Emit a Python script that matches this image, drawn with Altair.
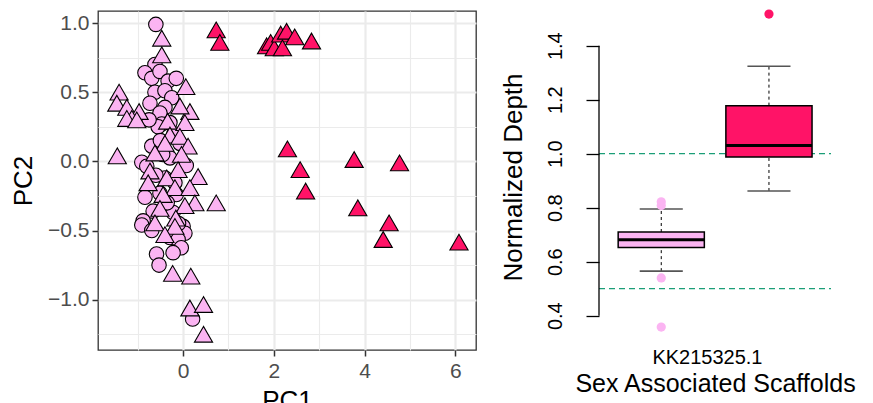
import altair as alt
import pandas as pd

# ---------------- PCA scatter data ----------------
dark_tri_x = [0.73, 0.81, 1.84, 1.93, 2.01, 2.15, 2.19, 2.28, 2.46, 2.83,
              2.30, 2.58, 2.70, 3.77, 4.77, 3.85, 4.54, 4.41, 6.08]
dark_tri_y = [0.95, 0.86, 0.835, 0.86, 0.82, 0.92, 0.82, 0.94, 0.90, 0.87,
              0.09, -0.06, -0.215, 0.013, -0.011, -0.336, -0.445, -0.565, -0.584]

light_tri_x = [-0.47, -0.47, 0.06, -1.41, -1.46, -1.24, -0.97, -1.13, -1.24, -1.02,
               0.15, -0.07, -0.34, 0.04, -0.29, -0.07, -0.40, 0.11, -0.62, -1.45,
               -0.035, -0.73, -0.11, -0.36, 0.33, -0.77, -0.18, 0.15, -0.44, 0.26,
               0.73, 0.04, -0.51, -0.16, -0.62, -0.18, -0.40, -0.23, 0.17, 0.15,
               0.45, 0.45]
light_tri_y = [0.89, 0.77, 0.54, 0.50, 0.42, 0.39, 0.36, 0.31, 0.31, 0.30,
               0.36, 0.40, 0.29, 0.28, 0.19, 0.18, 0.13, 0.11, 0.06, 0.04,
               0.05, -0.07, -0.06, -0.12, -0.11, -0.155, -0.19, -0.19, -0.24, -0.30,
               -0.30, -0.32, -0.34, -0.41, -0.445, -0.47, -0.53, -0.81, -0.83, -1.06,
               -1.035, -1.25]

light_circ_x = [-0.60, -0.62, -0.84, -0.69, -0.51, -0.33, -0.15, -0.62, -0.40, -0.25,
                -0.73, -0.40, -0.51, -0.29, -0.47, -0.55, -0.07, -0.69, -0.29, -0.91,
                -0.80, 0.07, -0.40, -0.18, -0.51, -0.84, -0.15, -0.66, -0.22, -0.88,
                -0.91, -0.69, 0.00, 0.04, -0.29, -0.11, -0.04, -0.22, -0.585, -0.53,
                0.21, -0.45, -0.60, -0.35, -0.10, -0.50, -0.20, -0.75]
light_circ_y = [0.99, 0.70, 0.64, 0.60, 0.65, 0.58, 0.60, 0.50, 0.51, 0.46,
                0.42, 0.39, 0.35, 0.28, 0.27, 0.25, 0.13, 0.11, 0.025, -0.006,
                -0.035, -0.03, -0.12, -0.155, -0.23, -0.26, -0.24, -0.36, -0.37, -0.43,
                -0.46, -0.50, -0.47, -0.52, -0.55, -0.565, -0.625, -0.66, -0.67, -0.75,
                -1.14, 0.05, -0.10, -0.30, -0.45, 0.15, 0.20, 0.30]

# ---------------- Boxplot data ----------------
box_pos = [1, 2]
box_group = ["light", "dark"]
box_q1 = [0.653, 0.988]
box_med = [0.681, 1.030]
box_q3 = [0.710, 1.178]
box_lo = [0.565, 0.862]
box_hi = [0.795, 1.324]
out_pos = [1, 1, 1, 1, 2]
out_group = ["light", "light", "light", "light", "dark"]
out_val = [0.822, 0.808, 0.540, 0.358, 1.517]
ref_lines = [1.0, 0.5]
depth_ticks = [0.4, 0.6, 0.8, 1.0, 1.2, 1.4]
scaffold_label = "KK215325.1"

FONT = "Liberation Sans"
LIGHT = "#FBB4F2"
DARK = "#FF1367"
TEAL = "#1B9E77"

pts = pd.concat([
    pd.DataFrame({"PC1": light_circ_x, "PC2": light_circ_y, "shape": "circle", "grp": "light"}),
    pd.DataFrame({"PC1": light_tri_x, "PC2": light_tri_y, "shape": "triangle", "grp": "light"}),
    pd.DataFrame({"PC1": dark_tri_x, "PC2": dark_tri_y, "shape": "triangle", "grp": "dark"}),
], ignore_index=True)

x_vals = [-1, 0, 1, 2, 3, 4, 5, 6]
y_vals = [-1.25, -1.0, -0.75, -0.5, -0.25, 0.0, 0.25, 0.5, 0.75, 1.0]
maj_x = "datum.value % 2 === 0"
maj_y = "abs(datum.value * 2 - round(datum.value * 2)) < 0.001"

common_axis = dict(
    gridColor="#EBEBEB", domain=False, tickColor="#333333", tickSize=6, tickWidth=1.5,
    labelFont=FONT, titleFont=FONT, labelFontSize=21, labelColor="#4D4D4D",
    titleFontSize=26, titleFontWeight="normal", titleColor="black",
)

x_axis = alt.Axis(
    values=x_vals, title="PC1", grid=True,
    gridWidth={"condition": {"test": maj_x, "value": 2.2}, "value": 1.1},
    tickOpacity={"condition": {"test": maj_x, "value": 1}, "value": 0},
    labelExpr=f"{maj_x} ? format(datum.value, 'd') : ''",
    labelPadding=4, titlePadding=6, **common_axis)
y_axis = alt.Axis(
    values=y_vals, title="PC2", grid=True,
    gridWidth={"condition": {"test": maj_y, "value": 2.2}, "value": 1.1},
    tickOpacity={"condition": {"test": maj_y, "value": 1}, "value": 0},
    labelExpr=f"{maj_y} ? format(datum.value, '.1f') : ''",
    labelPadding=3, titlePadding=11, **common_axis)

left = alt.Chart(pts).mark_point(filled=True, stroke="black", strokeWidth=1.1, opacity=1).encode(
    x=alt.X("PC1:Q", scale=alt.Scale(domain=[-1.875, 6.455], nice=False, zero=False), axis=x_axis),
    y=alt.Y("PC2:Q", scale=alt.Scale(domain=[-1.3637, 1.0868], nice=False, zero=False), axis=y_axis),
    fill=alt.Fill("grp:N", scale=alt.Scale(domain=["light", "dark"], range=[LIGHT, DARK]), legend=None),
    shape=alt.Shape("shape:N", scale=alt.Scale(domain=["circle", "triangle"], range=["circle", "triangle-up"]), legend=None),
    size=alt.Size("shape:N", scale=alt.Scale(domain=["circle", "triangle"], range=[210, 330]), legend=None),
).properties(width=378, height=339,
             view=alt.ViewBackground(stroke="#333333", strokeWidth=1.3, fill="white"))

# ---------------- Right panel ----------------
W2, H2 = 232, 332
boxes = pd.DataFrame({"pos": box_pos, "grp": box_group, "q1": box_q1, "med": box_med,
                      "q3": box_q3, "lo": box_lo, "hi": box_hi})
outs = pd.DataFrame({"pos": out_pos, "grp": out_group, "val": out_val})
refs = pd.DataFrame({"ref": ref_lines})
axis_line = pd.DataFrame({"a": [min(depth_ticks)], "b": [max(depth_ticks)]})

yscale = alt.Scale(domain=[0.2989, 1.5285], nice=False, zero=False)
xscale = alt.Scale(domain=[0.422, 2.576], nice=False, zero=False)
y2_axis = alt.Axis(
    values=depth_ticks, format=".1f", title="Normalized Depth", grid=False, domain=False,
    tickColor="black", tickSize=13, tickWidth=1.3, labelAngle=270, labelAlign="center",
    labelBaseline="bottom", labelPadding=21, labelFont=FONT, labelFontSize=20, labelColor="black",
    titleFont=FONT, titleFontSize=26, titleFontWeight="normal", titleColor="black", titlePadding=19)
x2_axis = alt.Axis(
    values=[1.424], labelExpr=f"'{scaffold_label}'", title="Sex Associated Scaffolds", grid=False,
    domain=False, ticks=False, labelPadding=4, labelFont=FONT, labelFontSize=20, labelColor="black",
    titleFont=FONT, titleFontSize=25, titleFontWeight="normal", titleColor="black", titlePadding=4)

def Y(f):
    return alt.Y(f, type="quantitative", scale=yscale, axis=y2_axis)

def X(f):
    return alt.X(f, type="quantitative", scale=xscale, axis=x2_axis)

color_fill = alt.Scale(domain=["light", "dark"], range=[LIGHT, DARK])

refl = alt.Chart(refs).mark_rule(color=TEAL, strokeDash=[6, 4], strokeWidth=1.2).encode(
    y=Y("ref"), x=alt.value(0), x2=alt.value(W2))
aline = alt.Chart(axis_line).mark_rule(color="black", strokeWidth=1.3).encode(
    y=Y("a"), y2="b", x=alt.value(0))

base = alt.Chart(boxes).transform_calculate(
    bl="datum.pos - 0.4", br="datum.pos + 0.4", cl="datum.pos - 0.2", cr="datum.pos + 0.2")
stem_hi = base.mark_rule(color="black", strokeDash=[3, 3], strokeWidth=1).encode(
    x=X("pos"), y=Y("q3"), y2="hi")
stem_lo = base.mark_rule(color="black", strokeDash=[3, 3], strokeWidth=1).encode(
    x=X("pos"), y=Y("lo"), y2="q1")
cap_hi = base.mark_rule(color="#555555", strokeWidth=1.6).encode(x=X("cl"), x2="cr", y=Y("hi"))
cap_lo = base.mark_rule(color="#555555", strokeWidth=1.6).encode(x=X("cl"), x2="cr", y=Y("lo"))
box = base.mark_rect(stroke="black", strokeWidth=1.5).encode(
    x=X("bl"), x2="br", y=Y("q1"), y2="q3",
    fill=alt.Fill("grp:N", scale=color_fill, legend=None))
med = base.mark_rule(color="black", strokeWidth=3).encode(x=X("bl"), x2="br", y=Y("med"))
outp = alt.Chart(outs).mark_circle(size=85, opacity=1).encode(
    x=X("pos"), y=Y("val"), color=alt.Color("grp:N", scale=color_fill, legend=None))

right = alt.layer(refl, aline, stem_hi, stem_lo, cap_hi, cap_lo, box, med, outp).properties(
    width=W2, height=H2, view=alt.ViewBackground(stroke="transparent", fill="white"))

chart = alt.hconcat(left, right, spacing=22).properties(
    padding={"left": 1, "top": 0, "right": 0, "bottom": 0}, background="white"
).configure_view(stroke="transparent")

chart.save("out.html", embed_options={"renderer": "svg", "actions": False})
